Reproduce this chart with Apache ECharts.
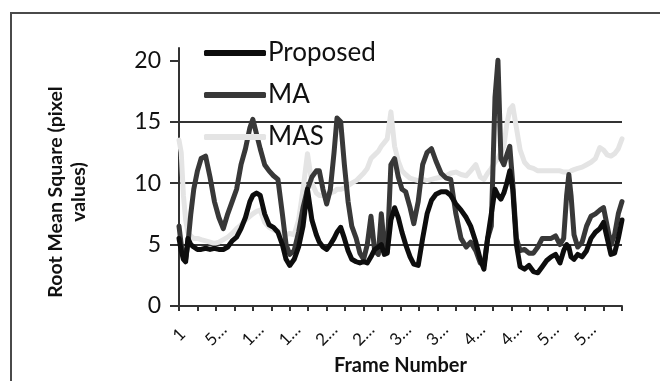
<!DOCTYPE html>
<html>
<head>
<meta charset="utf-8">
<script src="https://cdn.jsdelivr.net/npm/echarts@6/dist/echarts.min.js"></script>
<style>
html,body{margin:0;padding:0;background:#fff;}
#chart{width:660px;height:381px;}
</style>
</head>
<body>
<div id="chart"></div>
<script>
// ---- data ----
const seriesNames = ["Proposed", "MA", "MAS"];
const tickLabels = ["1", "5…", "1…", "1…", "2…", "2…", "3…", "3…", "4…", "4…", "5…", "5…"];
const yTicks = [0, 5, 10, 15, 20];
const frames = [0,3,6,9,12,16,20,25,30,36,42,48,54,60,66,72,78,84,90,96,100,105,110,116,122,128,134,140,145,150,156,162,168,174,180,186,190,195,200,205,210,214,219,224,229,234,240,245,250,255,260,265,270,274,278,282,287,292,297,302,307,313,318,324,330,336,342,348,355,362,368,375,382,389,395,402,408,413,418,423,428,432,436,440,444,448,452,457,462,468,474,480,486,492,498,504,510,516,521,525,528,531,535,540,546,552,558,564,570,575,580,585,590,595,600];
const proposed = [5.5,4.5,3.8,3.6,5.5,5,4.8,4.6,4.6,4.7,4.6,4.7,4.6,4.6,4.8,5.3,5.6,6.3,7.2,8.5,9,9.2,9,7.5,6.6,6.4,6,5,3.8,3.3,3.8,4.8,6.5,9.5,7,5.8,5.2,4.8,4.6,5,5.5,6,6.4,5.5,4.5,3.8,3.6,3.5,3.6,3.5,4,4.6,4.8,5,4.2,4.3,7,8,7.2,6,5,4,3.4,3.3,5.5,7.5,8.6,9.1,9.3,9.3,9,8.3,7.8,7.2,6.5,5.2,3.8,3,5.5,7.5,9.5,9,8.7,9.2,10,11,9.5,5,3.2,3,3.3,2.8,2.7,3.2,3.7,4,4.2,3.5,4.5,5,4.8,4,3.8,4.2,4,4.5,5.5,6,6.3,6.8,5.5,4.2,4.3,5.5,7];
const ma = [6.5,5,4.2,3.8,5,7.5,9.5,11,12,12.2,10.5,8.5,7.2,6.3,7.5,8.5,9.5,11.5,12.8,14.5,15.2,14,12.8,11.5,11,10.6,10.3,7.5,5,4.2,4.5,6,8,9.5,10.5,11,11,9.5,8.3,9.5,12.5,15.3,15,11.5,8.5,6.5,5.5,4.3,3.8,5,7.3,4.5,4.2,7.5,5,4.4,11.5,12,10.5,9.5,9.3,8,6.7,8.5,11.5,12.5,12.8,11.8,10.8,10.4,10.3,7.5,5.5,4.8,5.2,4.5,3.5,3.3,5.5,6.5,17,20,12,11.5,12.3,13,10,5.5,4.5,4.6,4.3,4.3,4.8,5.5,5.5,5.5,5.7,5,5.5,9,10.7,9,5.8,4.8,5.2,6.5,7.3,7.5,7.8,8,6.5,5,5.8,7.5,8.5];
const mas = [13.5,12.5,9,7,6,5.7,5.5,5.5,5.4,5.3,5.2,5.1,5.2,5.4,5.6,5.9,6.3,6.6,7,7.3,7.5,7.7,7.8,6.8,6.4,6.2,6.1,5.9,5.8,5.9,5.8,7,9.5,12.4,10,9.2,9,9,9.1,9.2,9.3,9.5,9.5,9.6,9.8,10,10.2,10.5,10.8,11.2,12,12.3,12.6,13,13.3,13.6,15.8,13,11.8,11,10.7,10.4,10.3,10.2,10.3,10.2,10.3,10.4,10.5,10.6,10.8,10.9,10.7,10.6,11,11.5,10.5,10.3,10.8,11.2,11.7,12,12.5,13,14.8,16,16.3,14.5,12.7,11.7,11.3,11.2,11,11,11,11,11,11,10.9,10.9,10.9,11,11.1,11.2,11.3,11.5,11.7,12,12.9,12.7,12.3,12.2,12.4,12.8,13.6];

const pairs = vals => frames.map((f, i) => [f, vals[i]]);
const FONT = 'Lato, "Open Sans", sans-serif';
const chart = echarts.init(document.getElementById('chart'), null, {renderer: 'canvas'});

const lineSeries = (name, vals, color, z) => ({
  name: name, type: 'line', data: pairs(vals), symbol: 'none', smooth: false,
  z: z, lineStyle: {color: color, width: 5, join: 'round', cap: 'round'},
  itemStyle: {color: color}, emphasis: {disabled: true}
});

chart.setOption({
  animation: false,
  backgroundColor: '#fff',
  textStyle: {fontFamily: FONT},
  graphic: [{
    type: 'rect', shape: {x: 11, y: 13, width: 700, height: 420},
    style: {fill: 'none', stroke: '#4a4a4a', lineWidth: 2}, z: 0, silent: true
  }],
  grid: {left: 179, right: 38, top: 48, bottom: 68.5, containLabel: false},
  legend: {
    orient: 'vertical', left: 199, top: 35, itemGap: 16,
    itemWidth: 62, itemHeight: 6, icon: 'roundRect',
    data: seriesNames,
    textStyle: {fontFamily: FONT, fontSize: 26, color: '#111', padding: [0, 0, 0, -3]}
  },
  xAxis: {
    type: 'value', min: 0, max: 600, interval: 50,
    name: 'Frame Number', nameLocation: 'middle', nameGap: 50,
    nameTextStyle: {fontFamily: FONT, fontSize: 20, fontWeight: 'bold', color: '#111'},
    axisLine: {show: true, lineStyle: {color: '#333', width: 2}},
    axisTick: {show: true, length: 5, lineStyle: {color: '#333', width: 2}},
    minorTick: {show: true, splitNumber: 2, length: 5, lineStyle: {color: '#333', width: 2}},
    splitLine: {show: false},
    axisLabel: {
      rotate: 45, align: 'center', verticalAlign: 'middle', margin: 29,
      fontFamily: FONT, fontSize: 17, color: '#111',
      showMaxLabel: true,
      formatter: v => (tickLabels[Math.round(v / 50)] !== undefined && v % 50 === 0) ? tickLabels[Math.round(v / 50)] : ''
    }
  },
  yAxis: {
    type: 'value', min: 0, max: 21, interval: 5,
    name: 'Root Mean Square (pixel\nvalues)', nameLocation: 'middle', nameGap: 89, nameRotate: 90,
    nameTextStyle: {fontFamily: FONT, fontSize: 19.5, fontWeight: 'bold', color: '#111', lineHeight: 23, padding: [0, 30, 0, 0]},
    axisLine: {show: true, lineStyle: {color: '#333', width: 2}},
    axisTick: {show: true, length: 9, customValues: yTicks, lineStyle: {color: '#333', width: 2}},
    splitLine: {show: true, showMinLine: false, showMaxLine: false, lineStyle: {color: '#333', width: 2}},
    axisLabel: {customValues: yTicks, margin: 18, fontFamily: FONT, fontSize: 23, color: '#111'}
  },
  series: [
    lineSeries(seriesNames[2], mas, '#e4e4e4', 2),
    lineSeries(seriesNames[1], ma, '#383838', 3),
    lineSeries(seriesNames[0], proposed, '#0d0d0d', 4)
  ]
});
</script>
</body>
</html>
